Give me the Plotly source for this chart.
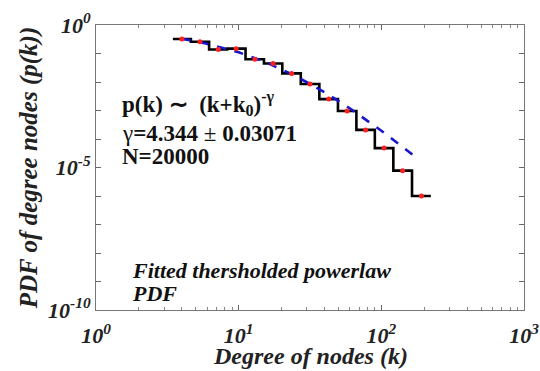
import numpy as np
import plotly.graph_objects as go

# ---- data ----
degree_k = [4.0, 5.35, 7.2, 9.6, 13.0, 17.4, 23.5, 31.6, 42.8, 57.6, 77.6, 104.5, 141.0, 191.0]
pdf_pk = [0.324, 0.257, 0.138, 0.148, 0.0631, 0.0447, 0.0200, 0.00851, 0.00251,
          0.000955, 0.000209, 4.79e-5, 7.76e-6, 1.0e-6]
fit_k = [4.0, 6.0, 10.0, 15.0, 25.0, 40.0, 60.0, 100.0, 167.0]
fit_pk = [0.33, 0.219, 0.110, 0.053, 0.0164, 0.00439, 0.0012, 1.95e-4, 2.75e-5]

x_tick_vals = [1, 10, 100, 1000]
x_tick_text = ["10<sup>0</sup>", "10<sup>1</sup>", "10<sup>2</sup>", "10<sup>3</sup>"]
y_tick_vals = [10.0 ** (-i) for i in range(0, 11)]
y_tick_text = ["10<sup>0</sup>", "", "", "", "", "10<sup>-5</sup>", "", "", "", "", "10<sup>-10</sup>"]

FONT = "Liberation Serif"

# stairs: bin edges derived from the bin centres
k = np.array(degree_k)
mids = np.sqrt(k[:-1] * k[1:])
first = k[0] / np.sqrt(k[1] / k[0])
last = k[-1] * np.sqrt(k[-1] / k[-2])
edges = np.concatenate([[first], mids, [last]])
stair_y = list(pdf_pk) + [pdf_pk[-1]]

fig = go.Figure()
fig.add_trace(go.Scatter(x=edges, y=stair_y, mode="lines", line_shape="hv",
                         line=dict(color="black", width=2.6), showlegend=False))
fig.add_trace(go.Scatter(x=fit_k, y=fit_pk, mode="lines",
                         line=dict(color="#1515d0", width=2.6, dash="dash"), showlegend=False))
fig.add_trace(go.Scatter(x=degree_k, y=pdf_pk, mode="markers",
                         marker=dict(color="#ff2020", size=5), showlegend=False))

tickfont = dict(family=FONT, size=22, color="#222222")
fig.update_xaxes(type="log", range=[0, 3], tickmode="array", tickvals=x_tick_vals,
                 ticktext=["<b><i>%s</i></b>" % t for t in x_tick_text],
                 ticks="inside", ticklen=5, tickcolor="#666", mirror="allticks",
                 showline=True, linecolor="#777", linewidth=1, showgrid=False, zeroline=False,
                 minor=dict(dtick="D1", ticks="inside", ticklen=3, tickcolor="#888", showgrid=False),
                 tickfont=tickfont, ticklabelstandoff=6, automargin=False)
fig.update_yaxes(type="log", range=[-10, 0], tickmode="array", tickvals=y_tick_vals,
                 ticktext=["<b><i>%s</i></b>" % t if t else "" for t in y_tick_text],
                 ticks="inside", ticklen=5, tickcolor="#666", mirror="allticks",
                 showline=True, linecolor="#777", linewidth=1, showgrid=False, zeroline=False,
                 tickfont=tickfont, automargin=False,
                 title=dict(text="<b><i>PDF of degree nodes (p(k))</i></b>",
                            font=dict(family=FONT, size=25, color="#222"), standoff=3))

# x-axis title placed as a paper annotation so it can sit just below the tick labels
fig.add_annotation(xref="paper", yref="paper", x=0.5, y=-0.163, xanchor="center", yanchor="middle",
                   showarrow=False, font=dict(family=FONT, size=24, color="#222"),
                   text="<b><i>Degree of nodes (k)</i></b>")

txt = dict(family=FONT, size=23, color="#111")
fig.add_annotation(xref="paper", yref="paper", x=0.055, y=0.725, xanchor="left", yanchor="middle",
                   showarrow=False, font=txt,
                   text="<b>p(k) ∼  (k+k<sub>0</sub>)<sup>-γ</sup></b>")
fig.add_annotation(xref="paper", yref="paper", x=0.055, y=0.62, xanchor="left", yanchor="middle",
                   showarrow=False, font=txt, text="γ<b>=4.344</b> ± <b>0.03071</b>")
fig.add_annotation(xref="paper", yref="paper", x=0.055, y=0.537, xanchor="left", yanchor="middle",
                   showarrow=False, font=txt, text="<b>N=20000</b>")
fig.add_annotation(xref="paper", yref="paper", x=0.08, y=0.138, xanchor="left", yanchor="middle",
                   showarrow=False, font=dict(family=FONT, size=22, color="#111"),
                   text="<b><i>Fitted thersholded powerlaw</i></b>")
fig.add_annotation(xref="paper", yref="paper", x=0.08, y=0.058, xanchor="left", yanchor="middle",
                   showarrow=False, font=dict(family=FONT, size=22, color="#111"),
                   text="<b><i>PDF</i></b>")

fig.update_layout(width=540, height=371, margin=dict(l=96, r=16, t=25, b=61, autoexpand=False),
                  paper_bgcolor="white", plot_bgcolor="white")
fig.write_html("out.html", config={"displayModeBar": False},
               post_script="document.body.style.margin='0px';")
